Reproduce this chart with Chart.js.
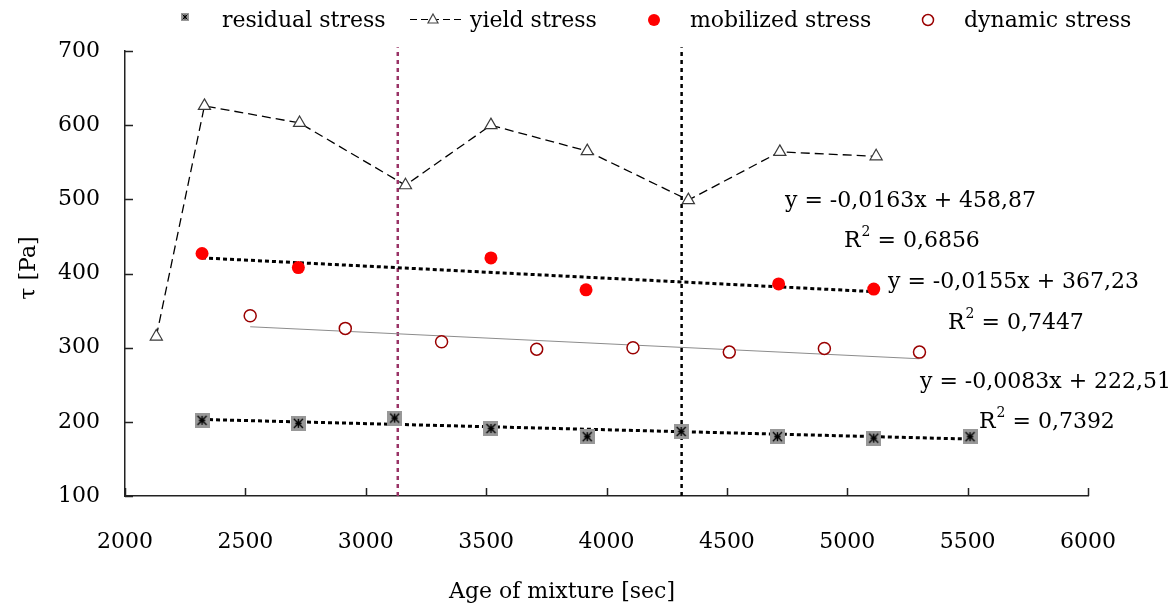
<!DOCTYPE html>
<html>
<head>
<meta charset="utf-8">
<script src="https://cdn.jsdelivr.net/npm/chart.js@4.4.0/dist/chart.umd.min.js"></script>
<style>
    html, body { margin: 0; padding: 0; background: #fff; }
    #chart { display: block; }
</style>
</head>
<body>
<canvas id="chart" width="1176" height="608"></canvas>
<script>
// measured series (age of mixture in sec, stress in Pa)
const residualX = [2320, 2720, 3120, 3520, 3920, 4310, 4710, 5110, 5510];
const residualY = [202, 198, 205, 191, 180, 187, 180, 178, 180];
const yieldX = [2130, 2330, 2725, 3165, 3520, 3920, 4340, 4720, 5120];
const yieldY = [315, 626, 603, 519, 600, 565, 499, 564, 558];
const mobilizedX = [2320, 2720, 3520, 3915, 4715, 5110];
const mobilizedY = [427, 408, 421, 378, 386, 379];
const dynamicX = [2520, 2915, 3315, 3710, 4110, 4510, 4905, 5300];
const dynamicY = [343, 326, 308, 298, 300, 294, 299, 294];

// linear trends y = k*x + b
const mobilizedTrend = { k: -0.0163, b: 458.87, r2: '0,6856' };
const dynamicTrend = { k: -0.0155, b: 367.23, r2: '0,7447' };
const residualTrend = { k: -0.0083, b: 222.51, r2: '0,7392' };

// vertical reference times
const markerLines = [3133, 4312];

const xTicks = [2000, 2500, 3000, 3500, 4000, 4500, 5000, 5500, 6000];
const yTicks = [100, 200, 300, 400, 500, 600, 700];

const FONT = "'DejaVu Serif', 'Liberation Serif', serif";
const fmt = (v, d) => v.toFixed(d).replace('.', ',');

const pts = (xs, ys) => xs.map((x, i) => ({ x, y: ys[i] }));
const trend = (xs, t) => [xs[0], xs[xs.length - 1]].map(x => ({ x, y: t.k * x + t.b }));
const vline = x => [{ x, y: 100 }, { x, y: 705 }];

function residualMark(size) {
    const c = document.createElement('canvas');
    c.width = size; c.height = size;
    const g = c.getContext('2d');
    const m = size / 2, a = size * 0.3;
    g.fillStyle = '#989898';
    g.fillRect(0, 0, size, size);
    g.strokeStyle = '#000';
    g.lineWidth = size > 10 ? 1.4 : 1;
    g.beginPath();
    g.moveTo(m, m - a); g.lineTo(m, m + a);
    g.moveTo(m - a, m - a); g.lineTo(m + a, m + a);
    g.moveTo(m + a, m - a); g.lineTo(m - a, m + a);
    g.moveTo(m - a * 0.7, m); g.lineTo(m + a * 0.7, m);
    g.stroke();
    return c;
}

const residualImg = residualMark(15);

const inwardTicks = {
    id: 'inwardTicks',
    afterDraw(chart) {
        const { ctx, scales: { x, y }, chartArea: a } = chart;
        ctx.save();
        ctx.strokeStyle = '#222';
        ctx.lineWidth = 1.5;
        ctx.beginPath();
        xTicks.forEach(v => {
            const px = Math.round(x.getPixelForValue(v)) + 0.5;
            ctx.moveTo(px, a.bottom); ctx.lineTo(px, a.bottom - 8);
        });
        yTicks.forEach(v => {
            const py = Math.round(y.getPixelForValue(v)) + 0.5;
            ctx.moveTo(a.left, py); ctx.lineTo(a.left + 8, py);
        });
        ctx.stroke();
        ctx.restore();
    }
};

function drawR2(ctx, x, y, value) {
    ctx.font = `22px ${FONT}`;
    ctx.fillText('R', x, y);
    const w = ctx.measureText('R').width;
    ctx.font = `14px ${FONT}`;
    ctx.fillText('2', x + w + 1, y - 11);
    const w2 = ctx.measureText('2').width;
    ctx.font = `22px ${FONT}`;
    ctx.fillText(' = ' + value, x + w + w2 + 1, y);
}

function eqText(t) {
    return `y = ${fmt(t.k, 4)}x + ${fmt(t.b, 2)}`;
}

const annotations = {
    id: 'annotations',
    afterDraw(chart) {
        const ctx = chart.ctx;
        ctx.save();
        ctx.fillStyle = '#000';
        ctx.textAlign = 'left';
        ctx.textBaseline = 'alphabetic';
        ctx.font = `22px ${FONT}`;

        // trend equations
        ctx.fillText(eqText(mobilizedTrend), 785, 207);
        drawR2(ctx, 844, 247, mobilizedTrend.r2);
        ctx.fillText(eqText(dynamicTrend), 888, 288);
        drawR2(ctx, 948, 329, dynamicTrend.r2);
        ctx.fillText(eqText(residualTrend), 920, 388);
        drawR2(ctx, 979, 428, residualTrend.r2);

        // axis titles
        ctx.font = `22px ${FONT}`;
        ctx.textAlign = 'center';
        ctx.fillText('Age of mixture [sec]', 562, 598);
        ctx.save();
        ctx.translate(35, 268);
        ctx.rotate(-Math.PI / 2);
        ctx.fillText('τ [Pa]', 0, 0);
        ctx.restore();

        // legend
        ctx.textAlign = 'left';
        const ly = 19, tb = 27;
        ctx.drawImage(residualMark(8), 181, 13);
        ctx.fillText('residual stress', 222, tb);

        ctx.strokeStyle = '#000';
        ctx.lineWidth = 1.2;
        ctx.setLineDash([7, 4]);
        ctx.beginPath(); ctx.moveTo(410, ly + 0.5); ctx.lineTo(462, ly + 0.5); ctx.stroke();
        ctx.setLineDash([]);
        ctx.fillStyle = '#fff';
        ctx.strokeStyle = '#444';
        ctx.beginPath();
        ctx.moveTo(433, ly - 5); ctx.lineTo(438, ly + 4); ctx.lineTo(428, ly + 4); ctx.closePath();
        ctx.fill(); ctx.stroke();
        ctx.fillStyle = '#000';
        ctx.fillText('yield stress', 470, tb);

        ctx.fillStyle = '#ff0000';
        ctx.beginPath(); ctx.arc(654, ly + 1, 6, 0, Math.PI * 2); ctx.fill();
        ctx.fillStyle = '#000';
        ctx.fillText('mobilized stress', 690, tb);

        ctx.strokeStyle = '#9a0000';
        ctx.lineWidth = 1.5;
        ctx.beginPath(); ctx.arc(928, ly + 1, 5.5, 0, Math.PI * 2); ctx.stroke();
        ctx.fillText('dynamic stress', 964, tb);
        ctx.restore();
    }
};

new Chart(document.getElementById('chart'), {
    type: 'scatter',
    data: {
        datasets: [
            {
                label: 'residual stress',
                data: pts(residualX, residualY),
                pointStyle: residualImg,
                pointRadius: 8,
                order: 0
            },
            {
                label: 'yield stress',
                type: 'line',
                data: pts(yieldX, yieldY),
                showLine: true,
                borderColor: '#000',
                borderWidth: 1.3,
                borderDash: [9, 5],
                tension: 0,
                pointStyle: 'triangle',
                pointRadius: 7,
                pointBorderColor: '#3a3a3a',
                pointBackgroundColor: '#fff',
                pointBorderWidth: 1.2,
                order: 0
            },
            {
                label: 'mobilized stress',
                data: pts(mobilizedX, mobilizedY),
                pointStyle: 'circle',
                pointRadius: 6.5,
                pointBackgroundColor: '#ff0000',
                pointBorderColor: '#ff0000',
                pointBorderWidth: 0,
                order: 0
            },
            {
                label: 'dynamic stress',
                data: pts(dynamicX, dynamicY),
                pointStyle: 'circle',
                pointRadius: 6,
                pointBackgroundColor: '#fff',
                pointBorderColor: '#9a0000',
                pointBorderWidth: 1.5,
                order: 0
            },
            {
                label: 'mobilized trend',
                type: 'line',
                data: trend(mobilizedX, mobilizedTrend),
                borderColor: '#000',
                borderWidth: 3,
                borderDash: [4, 3],
                pointRadius: 0,
                order: 2
            },
            {
                label: 'dynamic trend',
                type: 'line',
                data: trend(dynamicX, dynamicTrend),
                borderColor: '#8c8c8c',
                borderWidth: 1.2,
                pointRadius: 0,
                order: 2
            },
            {
                label: 'residual trend',
                type: 'line',
                data: trend(residualX, residualTrend),
                borderColor: '#000',
                borderWidth: 3,
                borderDash: [4, 3],
                pointRadius: 0,
                order: 2
            },
            {
                label: 'mark 1',
                type: 'line',
                data: vline(markerLines[0]),
                borderColor: '#993366',
                borderWidth: 2.5,
                borderDash: [4, 4],
                pointRadius: 0,
                clip: false,
                order: 3
            },
            {
                label: 'mark 2',
                type: 'line',
                data: vline(markerLines[1]),
                borderColor: '#000',
                borderWidth: 2.5,
                borderDash: [4, 4],
                pointRadius: 0,
                clip: false,
                order: 3
            }
        ]
    },
    options: {
        responsive: false,
        animation: false,
        devicePixelRatio: 1,
        layout: { padding: { top: 51, right: 88, left: 0, bottom: 0 } },
        plugins: {
            legend: { display: false },
            tooltip: { enabled: false }
        },
        scales: {
            x: {
                type: 'linear',
                min: 2000,
                max: 6000,
                afterFit(s) { s.height = 112; },
                afterBuildTicks(s) { s.ticks = xTicks.map(value => ({ value })); },
                ticks: {
                    autoSkip: false,
                    maxRotation: 0,
                    padding: 33,
                    color: '#000',
                    font: { family: FONT, size: 22 },
                    callback: v => String(v)
                },
                grid: { display: false, drawTicks: false },
                border: { display: true, color: '#222', width: 1.5 }
            },
            y: {
                type: 'linear',
                min: 100,
                max: 700,
                afterFit(s) { s.width = 125; },
                afterBuildTicks(s) { s.ticks = yTicks.map(value => ({ value })); },
                ticks: {
                    padding: 25,
                    color: '#000',
                    font: { family: FONT, size: 22 },
                    callback: v => String(v)
                },
                grid: { display: false, drawTicks: false },
                border: { display: true, color: '#222', width: 1.5 }
            }
        }
    },
    plugins: [inwardTicks, annotations]
});
</script>
</body>
</html>
